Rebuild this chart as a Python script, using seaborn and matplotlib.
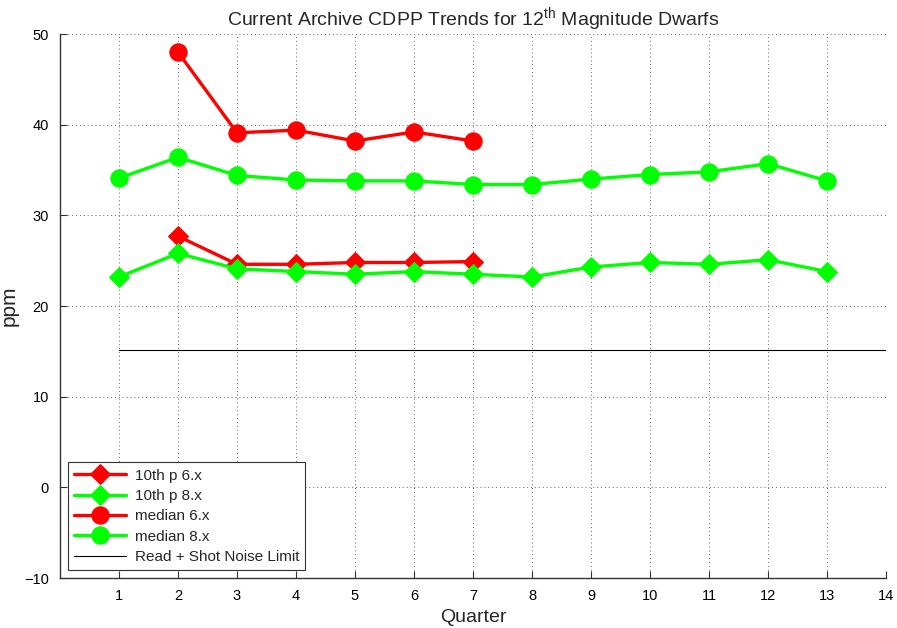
import numpy as np
import pandas as pd
import matplotlib
matplotlib.use("Agg")
import matplotlib.pyplot as plt
import seaborn as sns

quarters_6x = [2, 3, 4, 5, 6, 7]
quarters_8x = [1, 2, 3, 4, 5, 6, 7, 8, 9, 10, 11, 12, 13]
p10_6x = [27.7, 24.6, 24.6, 24.8, 24.8, 24.9]
p10_8x = [23.2, 25.8, 24.1, 23.8, 23.5, 23.8, 23.5, 23.2, 24.3, 24.8, 24.6, 25.1, 23.8]
med_6x = [48.0, 39.1, 39.4, 38.2, 39.2, 38.2]
med_8x = [34.1, 36.4, 34.4, 33.9, 33.8, 33.8, 33.4, 33.4, 34.0, 34.5, 34.8, 35.7, 33.8]
noise_x = [1, 14]
noise_y = [15.2, 15.2]
xticks = list(range(1, 15))
yticks = [-10, 0, 10, 20, 30, 40, 50]

sns.set_style("white")
plt.rcParams['font.family'] = ['Liberation Sans', 'DejaVu Sans']
plt.rcParams['mathtext.fontset'] = 'custom'
plt.rcParams['mathtext.rm'] = 'Liberation Sans'

fig = plt.figure(figsize=(8.97, 6.28), dpi=100)
ax = fig.add_axes([60/897, 50/628, 826/897, 544/628])

series = [
    ("10th p 6.x", quarters_6x, p10_6x, "#ff0000", "D", 10.5),
    ("10th p 8.x", quarters_8x, p10_8x, "#00ff00", "D", 10.5),
    ("median 6.x", quarters_6x, med_6x, "#ff0000", "o", 12.5),
    ("median 8.x", quarters_8x, med_8x, "#00ff00", "o", 12.5),
]
for name, xs, ys, col, mk, ms in series:
    df = pd.DataFrame({"Quarter": xs, "ppm": ys})
    sns.lineplot(data=df, x="Quarter", y="ppm", ax=ax, color=col, marker=mk,
                 markersize=ms, markeredgecolor=col, linewidth=2.4, label=name)

dfn = pd.DataFrame({"Quarter": noise_x, "ppm": noise_y})
sns.lineplot(data=dfn, x="Quarter", y="ppm", ax=ax, color="black", linewidth=0.8,
             label="Read + Shot Noise Limit")

ax.set_xlim(0, 14)
ax.set_ylim(-10, 50)
ax.set_xticks(xticks)
ax.set_yticks(yticks)
ax.grid(True, linestyle=(0, (1, 3)), color="#666666", linewidth=0.7)
for s in ["top", "right"]:
    ax.spines[s].set_visible(False)
for s in ["left", "bottom"]:
    ax.spines[s].set_color("#333333")
    ax.spines[s].set_linewidth(1.0)
ax.tick_params(direction="in", length=5, labelsize=10.5, colors="#333333",
               labelcolor="black", left=True, bottom=True, pad=8)
ax.set_xlabel("Quarter", fontsize=14)
ax.set_ylabel("ppm", fontsize=15)
ax.set_title("Current Archive CDPP Trends for 12$^{\\mathrm{th}}$ Magnitude Dwarfs",
             fontsize=14, pad=6)

leg = ax.legend(loc="lower left", fontsize=11, frameon=True, fancybox=False,
                framealpha=1, edgecolor="#333333", handlelength=3.4,
                handletextpad=0.6, borderaxespad=0.5, labelspacing=0.42,
                borderpad=0.4)
leg.get_frame().set_linewidth(0.8)

fig.savefig("out.png", dpi=100)
